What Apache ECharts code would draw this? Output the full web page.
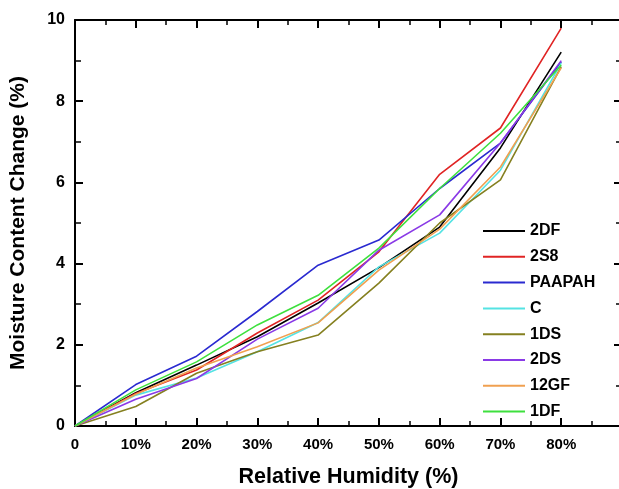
<!DOCTYPE html>
<html><head><meta charset="utf-8">
<script src="https://cdn.jsdelivr.net/npm/echarts@6/dist/echarts.min.js"></script>
<style>html,body{margin:0;padding:0;background:#fff;overflow:hidden}#c{width:619px;height:489px}</style>
</head><body><div id="c"></div>
<script>
var humidity = [0, 10, 20, 30, 40, 50, 60, 70, 80];
var s2DF   = [0, 0.82, 1.50, 2.20, 3.03, 3.90, 4.90, 6.85, 9.21];
var s2S8   = [0, 0.80, 1.38, 2.29, 3.10, 4.29, 6.20, 7.34, 9.80];
var sPAAPAH= [0, 1.02, 1.72, 2.82, 3.96, 4.58, 5.85, 6.97, 8.97];
var sC     = [0, 0.76, 1.18, 1.83, 2.55, 3.92, 4.75, 6.30, 8.94];
var s1DS   = [0, 0.48, 1.30, 1.83, 2.24, 3.52, 5.00, 6.06, 8.85];
var s2DS   = [0, 0.66, 1.17, 2.14, 2.90, 4.33, 5.20, 6.97, 9.00];
var s12GF  = [0, 0.78, 1.43, 1.95, 2.54, 3.84, 4.85, 6.38, 8.82];
var s1DF   = [0, 0.89, 1.58, 2.49, 3.22, 4.38, 5.85, 7.21, 8.89];
var names  = ['2DF','2S8','PAAPAH','C','1DS','2DS','12GF','1DF'];
var values = [s2DF, s2S8, sPAAPAH, sC, s1DS, s2DS, s12GF, s1DF];
var colors = ['#000000','#e02424','#2a2ad0','#55e3e3','#858020','#8a3ae6','#f0a050','#3ee03e'];

var series = names.map(function(n, i){
  return {
    name: n, type: 'line', symbol: 'none', silent: true,
    lineStyle: {color: colors[i], width: 1.6},
    itemStyle: {color: colors[i]},
    data: humidity.map(function(h, j){ return [h, values[i][j]]; })
  };
});
var font = 'Arial, "Liberation Sans", sans-serif';
var axisLine = {show: true, onZero: false, lineStyle: {color: '#000', width: 2}};
var chart = echarts.init(document.getElementById('c'));
chart.setOption({
  animation: false,
  grid: {left: 75, top: 20, height: 406, width: 547, containLabel: false, outerBoundsMode: 'none'},
  legend: {
    orient: 'vertical', left: 478, top: 217,
    icon: 'rect', itemWidth: 42, itemHeight: 2, itemGap: 7.8,
    textStyle: {fontSize: 16, fontWeight: 'bold', fontFamily: font, color: '#000', lineHeight: 18}
  },
  xAxis: [{
    type: 'value', min: 0, max: 90, interval: 10,
    axisLine: axisLine,
    axisTick: {inside: true, length: 8, lineStyle: {width: 2, color: '#000'}},
    minorTick: {show: true, splitNumber: 2, length: 5, lineStyle: {width: 1.5, color: '#000'}},
    splitLine: {show: false},
    axisLabel: {fontSize: 15, fontWeight: 'bold', fontFamily: font, color: '#000', margin: 11,
      formatter: function(v){ return v === 0 ? '0' : (v >= 90 ? '' : v + '%'); }},
    name: 'Relative Humidity (%)', nameLocation: 'middle', nameGap: 40,
    nameTextStyle: {fontSize: 21.5, fontWeight: 'bold', fontFamily: font, color: '#000'}
  }, {
    type: 'value', min: 0, max: 90, interval: 10, position: 'top',
    axisLine: axisLine,
    axisTick: {inside: true, length: 8, lineStyle: {width: 2, color: '#000'}},
    minorTick: {show: true, splitNumber: 2, length: 5, lineStyle: {width: 1.5, color: '#000'}},
    splitLine: {show: false}, axisLabel: {show: false}
  }],
  yAxis: [{
    type: 'value', min: 0, max: 10, interval: 2,
    axisLine: axisLine,
    axisTick: {inside: true, length: 8, lineStyle: {width: 2, color: '#000'}},
    minorTick: {show: true, splitNumber: 2, length: 6, lineStyle: {width: 1.5, color: '#000'}},
    splitLine: {show: false},
    axisLabel: {fontSize: 16, fontWeight: 'bold', fontFamily: font, color: '#000', margin: 10},
    name: 'Moisture Content Change (%)', nameLocation: 'middle', nameGap: 46,
    nameTextStyle: {fontSize: 21, fontWeight: 'bold', fontFamily: font, color: '#000'}
  }, {
    type: 'value', min: 0, max: 10, interval: 2, position: 'right',
    axisLine: axisLine,
    axisTick: {inside: true, length: 8, lineStyle: {width: 2, color: '#000'}},
    minorTick: {show: true, splitNumber: 2, length: 6, lineStyle: {width: 1.5, color: '#000'}},
    splitLine: {show: false}, axisLabel: {show: false}
  }],
  series: series
});
</script></body></html>
